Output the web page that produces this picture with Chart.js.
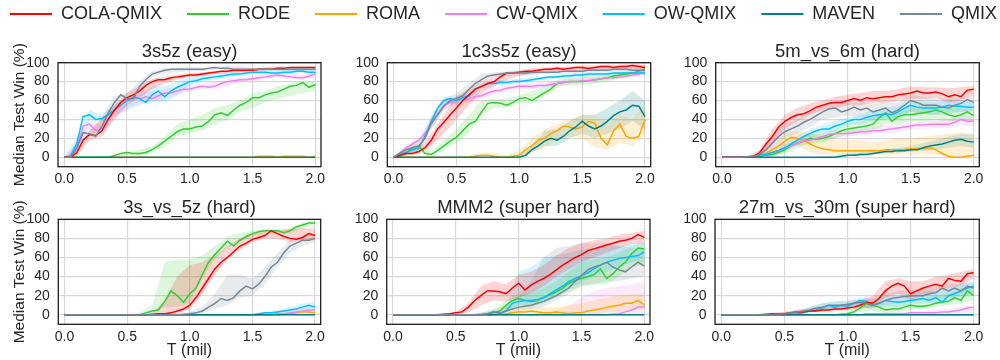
<!DOCTYPE html>
<html>
<head>
<meta charset="utf-8">
<script src="https://cdn.jsdelivr.net/npm/chart.js@4.4.1/dist/chart.umd.min.js"></script>
<style>
html,body{margin:0;padding:0;background:#ffffff;width:1000px;height:360px;overflow:hidden;position:relative}
canvas{position:absolute}
</style>
</head>
<body>
<script>
// ---------------- DATA ----------------
const METHODS = ['COLA-QMIX','RODE','ROMA','CW-QMIX','OW-QMIX','MAVEN','QMIX'];
const COLORS  = ['#ff0000','#32cd32','#ffa500','#ee82ee','#00bfff','#008080','#778899'];
const TITLES  = ['3s5z (easy)','1c3s5z (easy)','5m_vs_6m (hard)','3s_vs_5z (hard)','MMM2 (super hard)','27m_vs_30m (super hard)'];
const X_TICKS = [0.0,0.5,1.0,1.5,2.0];
const Y_TICKS = [0,20,40,60,80,100];
const T_FINE = [0.00,0.05,0.10,0.15,0.20,0.25,0.30,0.35,0.40,0.45,0.50,0.55,0.60,0.65,0.70,0.75,0.80,0.85,0.90,0.95,1.00,1.05,1.10,1.15,1.20,1.25,1.30,1.35,1.40,1.45,1.50,1.55,1.60,1.65,1.70,1.75,1.80,1.85,1.90,1.95,2.00];
const T_BAND = [0.0,0.1,0.2,0.3,0.4,0.5,0.6,0.7,0.8,0.9,1.0,1.1,1.2,1.3,1.4,1.5,1.6,1.7,1.8,1.9,2.0];

// panel 1: 3s5z
const S1_COLA  = [0,0,5,18,24,23,28,40,50,58,63,66,70,76,80,82,82,84,85,86,87,87,88,89,90,91,91,92,92,92,92,93,93,93,94,94,95,95,95,95,95];
const S1_RODE  = [0,0,0,0,0,0,0,0,2,4,5,4,4,5,8,12,17,22,27,30,30,32,33,38,45,47,44,50,55,58,63,63,66,68,69,72,75,76,79,74,77];
const S1_ROMA  = [0,0,0,0,0,0,0,0,0,0,0,0,0,0,0,0,0,0,0,0,0,0,0,0,0,0,0,0,0,0,0,1,1,1,0,1,1,1,1,0,1];
const S1_CW    = [0,0,10,33,35,28,30,40,50,55,60,63,62,64,62,65,68,68,70,72,72,74,75,74,75,78,80,81,82,82,83,84,85,86,87,86,85,84,84,86,88];
const S1_OW    = [0,1,15,43,45,40,41,45,50,55,60,64,62,58,66,70,64,70,74,77,80,81,83,84,85,86,87,88,88,89,90,90,90,89,89,90,90,91,91,90,90];
const S1_MAVEN = [0,0,0,0,0,0,0,0,0,0,0,0,0,0,0,0,0,0,0,0,0,0,0,0,0,0,0,0,0,0,0,0,0,0,0,0,0,0,0,0,0];
const S1_QMIX  = [0,0,10,26,25,22,33,47,58,66,62,62,75,82,88,90,92,93,93,93,93,93,93,94,95,94,94,93,93,93,93,93,93,93,93,93,93,93,93,93,93];
const B1_COLA_LO = [0,0,18,22,40,55,63,72,78,82,85,86,88,89,90,91,92,93,94,94,94];
const B1_COLA_HI = [0,8,28,40,55,68,75,83,85,87,89,90,91,92,93,94,95,96,96,96,96];
const B1_RODE_LO = [0,0,0,0,0,2,2,5,12,22,25,28,35,40,48,52,58,62,65,68,70];
const B1_RODE_HI = [0,0,0,0,1,6,8,12,22,35,40,45,52,55,60,68,70,75,78,80,80];
const B1_CW_LO   = [0,5,30,25,42,50,58,58,62,66,70,72,72,76,79,80,82,84,82,82,85];
const B1_CW_HI   = [0,15,38,35,55,62,68,70,72,74,76,78,80,83,85,86,88,90,88,88,90];
const B1_OW_LO   = [0,5,38,38,44,50,55,60,58,65,76,80,82,84,86,88,88,87,88,89,88];
const B1_OW_HI   = [0,20,50,45,56,62,68,75,75,80,85,87,88,90,91,92,92,92,93,93,93];
const B1_QMIX_LO = [0,5,22,30,55,60,70,85,89,90,91,91,93,92,92,91,91,91,91,91,91];
const B1_QMIX_HI = [0,15,28,42,65,68,80,91,94,95,95,95,96,96,96,95,95,95,95,95,95];

// panel 2: 1c3s5z
const S2_COLA  = [0,2,4,4,6,10,18,30,37,45,52,60,66,72,75,78,80,85,89,89,90,91,91,92,93,93,94,93,94,95,95,94,95,96,96,95,96,96,97,96,95];
const S2_RODE  = [0,1,5,10,12,4,3,7,12,17,21,28,35,38,48,57,58,57,55,58,62,63,60,64,68,72,78,79,80,80,80,81,82,83,84,86,87,88,89,91,93];
const S2_ROMA  = [0,0,0,0,0,0,0,0,0,0,0,0,0,1,2,2,1,0,0,1,2,8,12,18,20,25,28,33,32,30,32,38,36,20,13,28,35,22,20,22,40];
const S2_CW    = [0,5,10,14,18,25,35,45,55,58,60,61,62,64,65,68,70,71,73,74,75,75,75,76,76,77,78,79,80,80,81,81,82,83,84,84,85,86,87,88,90];
const S2_OW    = [0,3,5,8,10,22,38,52,60,62,60,63,65,72,75,78,78,79,79,80,80,81,82,83,84,85,85,86,86,87,87,88,88,88,88,89,89,89,89,89,89];
const S2_MAVEN = [0,0,0,0,0,0,0,0,0,0,0,0,0,0,0,0,0,0,0,0,0,2,8,12,17,20,18,22,28,32,38,33,30,33,38,44,48,50,55,54,43];
const S2_QMIX  = [0,4,8,10,12,20,36,45,54,60,62,65,72,78,82,86,87,88,89,89,89,89,90,90,90,90,90,91,91,91,91,92,92,92,92,93,93,93,92,92,92];
const B2_COLA_LO  = [0,2,4,12,25,40,55,68,75,82,86,88,90,90,91,92,91,93,93,93,92];
const B2_COLA_HI  = [0,6,10,25,45,65,72,80,85,90,92,94,95,96,96,97,97,98,98,99,98];
const B2_RODE_LO  = [0,2,8,2,8,15,25,45,52,52,58,56,65,74,76,76,78,80,83,85,88];
const B2_RODE_HI  = [0,8,15,6,18,30,45,60,62,62,65,70,75,82,84,85,86,88,90,92,95];
const B2_ROMA_LO  = [0,0,0,0,0,0,0,0,0,0,0,5,10,20,22,20,10,8,15,12,25];
const B2_ROMA_HI  = [0,0,0,0,0,0,2,5,5,2,8,20,30,35,40,45,45,35,45,40,58];
const B2_CW_LO    = [0,7,15,30,50,56,58,62,66,70,72,72,74,75,77,79,80,82,83,85,87];
const B2_CW_HI    = [0,13,20,40,60,64,66,68,74,76,78,79,79,81,83,84,85,86,87,89,92];
const B2_OW_LO    = [0,3,7,32,57,56,62,72,76,77,78,80,82,83,84,85,86,86,87,87,87];
const B2_OW_HI    = [0,8,12,42,64,64,68,78,81,82,83,85,86,87,88,89,90,90,91,91,91];
const B2_MAVEN_LO = [0,0,0,0,0,0,0,0,0,0,0,5,12,12,20,25,20,25,30,38,30];
const B2_MAVEN_HI = [0,0,0,0,0,0,0,0,0,0,0,12,28,30,38,45,45,52,60,70,60];
const B2_QMIX_LO  = [0,5,8,30,50,58,68,80,85,86,87,87,88,88,88,89,90,90,91,91,90];
const B2_QMIX_HI  = [0,12,15,45,62,68,78,88,90,91,91,92,92,92,92,93,94,94,95,95,94];

// panel 3: 5m_vs_6m
const S3_COLA  = [0,0,0,0,0.5,1,5,14,22,32,38,42,45,46,49,53,55,57,58,58,60,62,60,63,62,63,64,64,66,67,68,70,68,68,69,67,64,66,64,71,72];
const S3_RODE  = [0,0,0,0,0,0.5,1,2,3,5,8,12,15,17,20,19,20,22,25,28,30,31,32,33,35,42,47,38,43,45,45,46,47,48,50,48,45,43,45,48,44];
const S3_ROMA  = [0,0,0,0,0,0.5,2,4,8,12,17,21,20,18,14,11,9,8,7,7,7,7,7,7,7,7,8,8,8,8,9,9,9,10,8,4,1,0,0,1,2];
const S3_CW    = [0,0,0,0,0,1,2,3,5,7,10,12,15,17,18,20,22,24,25,25,25,26,27,27,28,28,29,30,31,32,33,34,34,35,35,35,35,37,40,38,38];
const S3_OW    = [0,0,0,0,0,1,2,3,5,7,10,14,18,22,25,28,30,30,33,35,38,40,40,42,44,45,46,45,48,52,55,53,52,52,52,53,55,54,54,53,53];
const S3_MAVEN = [0,0,0,0,0,0,0,0,0,0,0,0,0,0,0,0,0,0,0,1,2,2,3,3,4,5,6,6,7,7,8,8,10,12,13,14,16,18,19,17,16];
const S3_QMIX  = [0,0,0,0,0.5,1,3,8,15,22,27,30,33,37,40,44,48,51,52,48,50,53,50,52,48,50,52,47,50,55,60,58,55,55,55,53,52,55,57,61,58];
const B3_COLA_LO  = [0,0,0,0,12,30,38,45,50,52,55,55,57,58,60,62,62,63,58,60,65];
const B3_COLA_HI  = [0,0,0,8,30,45,52,57,60,64,66,68,70,70,72,75,74,74,73,74,76];
const B3_RODE_LO  = [0,0,0,0,1,4,10,14,15,20,24,26,28,35,35,38,38,40,38,38,38];
const B3_RODE_HI  = [0,0,0,2,5,12,20,25,25,30,36,38,42,48,50,52,54,56,52,52,50];
const B3_ROMA_LO  = [0,0,0,0,4,12,12,5,3,3,2,2,2,3,3,3,3,3,0,0,0];
const B3_ROMA_HI  = [0,0,0,3,12,25,28,25,20,18,18,18,16,18,20,20,22,23,25,25,25];
const B3_CW_LO    = [0,0,0,0,2,6,12,15,18,20,22,23,24,25,27,29,30,31,31,34,33];
const B3_CW_HI    = [0,0,0,3,8,14,18,22,26,29,29,31,32,34,35,37,38,40,40,44,43];
const B3_OW_LO    = [0,0,0,0,2,6,13,20,25,28,34,35,38,40,42,48,46,45,48,48,48];
const B3_OW_HI    = [0,0,0,3,8,15,23,30,35,38,42,45,50,52,55,60,58,58,60,60,58];
const B3_MAVEN_LO = [0,0,0,0,0,0,0,0,0,0,1,2,3,4,5,6,7,8,10,12,10];
const B3_MAVEN_HI = [0,0,0,0,0,0,0,0,1,2,4,5,7,8,10,12,15,18,22,25,24];
const B3_QMIX_LO  = [0,0,0,0,8,20,25,32,40,42,44,42,40,42,40,48,45,45,45,48,50];
const B3_QMIX_HI  = [0,0,0,4,22,35,40,48,55,58,58,58,56,58,58,66,64,63,62,63,64];

// panel 4: 3s_vs_5z
const S4_COLA  = [0,0,0,0,0,0,0,0,0,0,0,0,0,0,0.5,1,1,2,4,6,10,18,28,38,48,55,60,66,72,75,79,81,83,88,85,82,80,79,81,85,83];
const S4_RODE  = [0,0,0,0,0,0,0,0,0,0,0,0,0,2,4,5,14,25,20,13,22,28,42,55,63,70,77,72,78,82,85,87,88,88,88,86,88,92,94,96,96];
const S4_ROMA  = [0,0,0,0,0,0,0,0,0,0,0,0,0,0,0,0,0,0,0,0,0,0,0,0,0,0,0,0,0,0,0,0,0,0,0,0.5,1,2,3,3,2];
const S4_CW    = [0,0,0,0,0,0,0,0,0,0,0,0,0,0,0,0,0,0,0,0,0,0,0,0,0,0,0,0,0,0,0,0,0,0,1,1,2,3,4,5,5];
const S4_OW    = [0,0,0,0,0,0,0,0,0,0,0,0,0,0,0,0,0,0,0,0,0,0,0,0,0,0,0,0,0,0,0,1,2,2,3,4,5,6,8,10,8];
const S4_MAVEN = [0,0,0,0,0,0,0,0,0,0,0,0,0,0,0,0,0,0,0,0,0,0,0,0,0,0,0,0,0,0,0,0,0,0,0,0,0,0,0,0,0];
const S4_QMIX  = [0,0,0,0,0,0,0,0,0,0,0,0,0,0,0,0,0,0,0,0.5,1,2,4,8,12,17,15,18,25,30,27,32,40,50,55,65,72,75,78,78,80];
const B4_COLA_LO = [0,0,0,0,0,0,0,0,0,1,6,22,42,58,68,76,80,80,76,78,78];
const B4_COLA_HI = [0,0,0,0,0,0,0,2,15,40,52,55,62,72,80,85,87,88,90,91,90];
const B4_RODE_LO = [0,0,0,0,0,0,0,2,8,8,12,38,58,70,76,82,84,85,85,90,94];
const B4_RODE_HI = [0,0,0,0,0,0,2,10,55,58,58,62,72,82,86,88,90,90,90,97,99];
const B4_CW_LO   = [0,0,0,0,0,0,0,0,0,0,0,0,0,0,0,0,0,0,0,0,0];
const B4_CW_HI   = [0,0,0,0,0,0,0,0,0,0,0,0,0,0,0,0,2,4,6,8,10];
const B4_OW_LO   = [0,0,0,0,0,0,0,0,0,0,0,0,0,0,0,0,0,1,2,4,5];
const B4_OW_HI   = [0,0,0,0,0,0,0,0,0,0,0,0,0,0,0,1,3,5,8,12,13];
const B4_QMIX_LO = [0,0,0,0,0,0,0,0,0,0,0,1,6,10,18,20,32,50,65,72,76];
const B4_QMIX_HI = [0,0,0,0,0,0,0,0,0,0,3,8,22,42,42,38,50,65,78,82,84];

// panel 5: MMM2
const S5_COLA  = [0,0,0,0,0,0,0,0,0.5,1,2,3,8,15,20,25,25,24,22,28,33,26,31,35,38,42,47,52,56,60,63,67,69,71,73,75,77,78,80,84,81];
const S5_RODE  = [0,0,0,0,0,0,0,0,0,0,0,0,0,0,0.5,1,2,4,10,15,17,15,14,15,18,21,24,28,33,36,38,40,42,48,38,43,50,55,64,70,69];
const S5_ROMA  = [0,0,0,0,0,0,0,0,0,0,0,0,0,0,0,0,0,0.5,1,2,3,3,4,3,2,2,3,2,1,2,2,4,5,6,8,9,10,12,12,15,10];
const S5_CW    = [0,0,0,0,0,0,0,0,0,0,0,0,0,0,0,0,0,0,0,0,0,0,0,0,0,0,0,0,0,0,0,0,0,0,0,0.5,1,3,5,8,8];
const S5_OW    = [0,0,0,0,0,0,0,0,0,0,0,0,0,0,0,0,0,1,4,12,14,15,15,16,18,22,26,30,35,38,41,44,48,52,55,57,59,60,61,62,66];
const S5_MAVEN = [0,0,0,0,0,0,0,0,0,0,0,0,0,0,0,0,0,0,0,0,0,0,0,0,0,0,0,0,0,0,0,0,0,0,0,0,0,0,0,0,0];
const S5_QMIX  = [0,0,0,0,0,0,0,0,0,0,0,0,0,0,0,1,3,2,4,6,8,9,10,12,14,17,20,24,28,35,41,47,50,52,55,50,47,45,50,55,51];
const B5_COLA_LO = [0,0,0,0,0,0,2,10,15,14,18,22,30,40,48,55,60,65,70,74,74];
const B5_COLA_HI = [0,0,0,0,1,3,12,30,35,32,42,45,52,62,70,75,78,80,84,86,88];
const B5_RODE_LO = [0,0,0,0,0,0,0,0,1,5,10,8,12,18,25,30,32,32,40,50,52];
const B5_RODE_HI = [0,0,0,0,0,0,0,2,6,15,22,22,28,35,45,55,58,60,65,72,75];
const B5_ROMA_LO = [0,0,0,0,0,0,0,0,0,0,0,0,0,0,0,0,0,2,3,5,5];
const B5_ROMA_HI = [0,0,0,0,0,0,0,0,2,5,8,8,8,8,10,12,15,18,20,22,22];
const B5_CW_LO   = [0,0,0,0,0,0,0,0,0,0,0,0,0,0,0,0,0,0,0,0,0];
const B5_CW_HI   = [0,0,0,0,0,0,0,0,0,0,0,0,2,5,10,18,25,28,30,32,34];
const B5_OW_LO   = [0,0,0,0,0,0,0,0,0,2,10,10,14,20,28,34,40,45,50,55,56];
const B5_OW_HI   = [0,0,0,0,0,0,0,0,2,8,45,50,60,62,65,68,70,72,72,74,75];
const B5_QMIX_LO = [0,0,0,0,0,0,0,0,0,2,4,6,8,15,22,30,32,35,35,38,40];
const B5_QMIX_HI = [0,0,0,0,0,0,0,2,5,10,20,35,60,70,72,75,75,75,72,70,68];

// panel 6: 27m_vs_30m
const S6_COLA  = [0,0,0,0,0,0,0,0.5,1,1,1,2,3,3,4,4,5,5,6,6,7,8,10,13,12,17,25,30,33,30,22,25,28,30,32,30,38,36,35,43,44];
const S6_RODE  = [0,0,0,0,0,0,0,0,0,0,0,0,0,0,0,0,0,0,0,0.5,1,3,7,12,10,8,5,6,6,8,10,9,9,10,12,13,14,18,15,25,20];
const S6_ROMA  = [0,0,0,0,0,0,0,0,0,0,0,0,0,0,0,0,0,0,0,0,0,0,0,0,0,0,0,0,0,0,0,0,0,0,0,0,0,0,0,0,0];
const S6_CW    = [0,0,0,0,0,0,0,0,0,0,0,0,0,0,0,0,0,0,0,0,0,0,0,1,1,1,1,1,1,1,2,2,2,2,2,3,3,4,5,7,8];
const S6_OW    = [0,0,0,0,0,0,0,0,0,0,0,0.5,1,2,4,5,7,10,8,10,9,12,15,14,10,12,15,14,13,14,15,16,17,15,18,13,20,22,25,28,30];
const S6_MAVEN = [0,0,0,0,0,0,0,0,0,0,0,0,0,0,0,0,0,0,0,0,0,0,0,0,0,0,0,0,0,0,0,0,0,0,0,0,0,0,0,0,0];
const S6_QMIX  = [0,0,0,0,0,0,0,0,0,0.5,1,2,3,4,5,7,8,10,10,10,11,12,13,12,10,12,15,17,18,19,20,20,20,22,23,28,25,28,25,30,28];
const B6_COLA_LO = [0,0,0,0,1,1,2,3,3,4,5,6,8,18,22,15,20,24,28,30,38];
const B6_COLA_HI = [0,0,0,0,2,3,5,6,8,9,10,15,20,35,38,35,35,40,42,45,48];
const B6_RODE_LO = [0,0,0,0,0,0,0,0,0,0,0,3,4,2,3,5,6,8,10,12,15];
const B6_RODE_HI = [0,0,0,0,0,0,0,0,0,1,2,12,15,12,12,16,17,20,22,28,28];
const B6_CW_LO   = [0,0,0,0,0,0,0,0,0,0,0,0,0,0,0,0,0,0,0,0,0];
const B6_CW_HI   = [0,0,0,0,0,0,0,0,0,0,0,1,2,3,3,4,4,5,6,8,10];
const B6_OW_LO   = [0,0,0,0,0,0,0,2,4,5,6,8,6,8,8,10,12,12,14,18,22];
const B6_OW_HI   = [0,0,0,0,0,1,3,8,12,14,14,18,16,20,20,22,25,25,28,32,35];
const B6_QMIX_LO = [0,0,0,0,0,1,2,3,5,6,8,8,7,10,13,14,15,16,18,20,22];
const B6_QMIX_HI = [0,0,0,0,1,3,5,8,12,14,15,16,18,22,25,26,28,30,32,33,34];

// ---------------- LAYOUT / RENDER ----------------
const PANELS = [
  {lines:[S1_COLA,S1_RODE,S1_ROMA,S1_CW,S1_OW,S1_MAVEN,S1_QMIX],
   bands:[[B1_COLA_LO,B1_COLA_HI],[B1_RODE_LO,B1_RODE_HI],null,[B1_CW_LO,B1_CW_HI],[B1_OW_LO,B1_OW_HI],null,[B1_QMIX_LO,B1_QMIX_HI]]},
  {lines:[S2_COLA,S2_RODE,S2_ROMA,S2_CW,S2_OW,S2_MAVEN,S2_QMIX],
   bands:[[B2_COLA_LO,B2_COLA_HI],[B2_RODE_LO,B2_RODE_HI],[B2_ROMA_LO,B2_ROMA_HI],[B2_CW_LO,B2_CW_HI],[B2_OW_LO,B2_OW_HI],[B2_MAVEN_LO,B2_MAVEN_HI],[B2_QMIX_LO,B2_QMIX_HI]]},
  {lines:[S3_COLA,S3_RODE,S3_ROMA,S3_CW,S3_OW,S3_MAVEN,S3_QMIX],
   bands:[[B3_COLA_LO,B3_COLA_HI],[B3_RODE_LO,B3_RODE_HI],[B3_ROMA_LO,B3_ROMA_HI],[B3_CW_LO,B3_CW_HI],[B3_OW_LO,B3_OW_HI],[B3_MAVEN_LO,B3_MAVEN_HI],[B3_QMIX_LO,B3_QMIX_HI]]},
  {lines:[S4_COLA,S4_RODE,S4_ROMA,S4_CW,S4_OW,S4_MAVEN,S4_QMIX],
   bands:[[B4_COLA_LO,B4_COLA_HI],[B4_RODE_LO,B4_RODE_HI],null,[B4_CW_LO,B4_CW_HI],[B4_OW_LO,B4_OW_HI],null,[B4_QMIX_LO,B4_QMIX_HI]]},
  {lines:[S5_COLA,S5_RODE,S5_ROMA,S5_CW,S5_OW,S5_MAVEN,S5_QMIX],
   bands:[[B5_COLA_LO,B5_COLA_HI],[B5_RODE_LO,B5_RODE_HI],[B5_ROMA_LO,B5_ROMA_HI],[B5_CW_LO,B5_CW_HI],[B5_OW_LO,B5_OW_HI],null,[B5_QMIX_LO,B5_QMIX_HI]]},
  {lines:[S6_COLA,S6_RODE,S6_ROMA,S6_CW,S6_OW,S6_MAVEN,S6_QMIX],
   bands:[[B6_COLA_LO,B6_COLA_HI],[B6_RODE_LO,B6_RODE_HI],null,[B6_CW_LO,B6_CW_HI],[B6_OW_LO,B6_OW_HI],null,[B6_QMIX_LO,B6_QMIX_HI]]}
];

// geometry of each panel (canvas box and plot edges, in page pixels)
const GEO = [
  {cl:0,   cw:330, pl:58,    pr:321,   row:0},
  {cl:330, cw:330, pl:387.3, pr:650.7, row:0},
  {cl:660, cw:340, pl:715.7, pr:979.3, row:0},
  {cl:0,   cw:330, pl:58.3,  pr:320.7, row:1},
  {cl:330, cw:330, pl:386.7, pr:650,   row:1},
  {cl:660, cw:340, pl:715,   pr:979.3, row:1}
];
const ROWS = [
  {ct:30,  ch:165, padTop:10.5, xh:28.3},
  {ct:195, ch:165, padTop:2.1,  xh:35.7}
];
const LINE_ORDER = [1,5,6,4,3,2,0]; // drawing priority (lower = on top)

Chart.defaults.font.family = "'Liberation Sans', Arial, Helvetica, sans-serif";
Chart.defaults.color = '#262626';

function rgba(hex, a){
  const n = parseInt(hex.slice(1),16);
  return `rgba(${(n>>16)&255},${(n>>8)&255},${n&255},${a})`;
}
function pts(xs, ys){ return xs.map((x,i)=>({x:x, y:ys[i]})); }

const framePlugin = {
  id:'frame',
  afterDraw(chart){
    const {ctx, chartArea:a} = chart;
    ctx.save();
    ctx.strokeStyle = '#1f1f1f';
    ctx.lineWidth = 1.3;
    ctx.strokeRect(a.left, a.top, a.right-a.left, a.bottom-a.top);
    ctx.restore();
  }
};

function makeCanvas(left, top, w, h){
  const c = document.createElement('canvas');
  c.width = w; c.height = h;
  c.style.left = left+'px'; c.style.top = top+'px';
  c.style.width = w+'px'; c.style.height = h+'px';
  document.body.appendChild(c);
  return c.getContext('2d');
}

PANELS.forEach((p, k)=>{
  const g = GEO[k], r = ROWS[g.row];
  const col = k % 3;
  const ds = [];
  p.bands.forEach((b, i)=>{
    if(!b) return;
    ds.push({data:pts(T_BAND,b[0]), borderColor:'rgba(0,0,0,0)', borderWidth:0, pointRadius:0, fill:false, order:50, tension:0});
    ds.push({data:pts(T_BAND,b[1]), borderColor:'rgba(0,0,0,0)', borderWidth:0, pointRadius:0, fill:'-1', backgroundColor:rgba(COLORS[i],0.17), order:50, tension:0});
  });
  p.lines.forEach((arr, i)=>{
    ds.push({label:METHODS[i], data:pts(T_FINE,arr), borderColor:COLORS[i], borderWidth:1.5, pointRadius:0, fill:false, tension:0, order:LINE_ORDER[i]});
  });
  const ctx = makeCanvas(g.cl, r.ct, g.cw, r.ch);
  new Chart(ctx, {
    type:'line',
    data:{datasets:ds},
    plugins:[framePlugin],
    options:{
      responsive:false, animation:false, events:[],
      layout:{padding:{top:r.padTop, right:(g.cl+g.cw)-g.pr, bottom:0, left:0}},
      plugins:{
        legend:{display:false},
        tooltip:{enabled:false},
        filler:{drawTime:'beforeDatasetsDraw'},
        title:{display:true, fullSize:false, text:TITLES[k], color:'#262626', font:{size:18.5, weight:'normal', lineHeight:1.2}, padding:{top:0,bottom:0}}
      },
      scales:{
        x:{type:'linear', min:-0.05, max:2.045,
           afterFit:(s)=>{ s.height = r.xh; },
           afterBuildTicks:(s)=>{ s.ticks = X_TICKS.map(v=>({value:v})); },
           ticks:{padding:4.5, maxRotation:0, autoSkip:false, font:{size:14}, color:'#262626', callback:(v)=>Number(v).toFixed(1)},
           grid:{color:'#d9d9d9', lineWidth:1.2, drawTicks:false},
           border:{display:false},
           title:{display:g.row===1, text:'T (mil)', color:'#262626', font:{size:16}, padding:{top:0,bottom:0}}
        },
        y:{type:'linear', min:-10, max:100,
           afterFit:(s)=>{ s.width = g.pl - g.cl; },
           afterBuildTicks:(s)=>{ s.ticks = Y_TICKS.map(v=>({value:v})); },
           ticks:{padding:8.5, font:{size:14}, color:'#262626', callback:(v)=>String(v)},
           grid:{color:'#d9d9d9', lineWidth:1.2, drawTicks:false},
           border:{display:false},
           title:{display:col===0, text:'Median Test Win (%)', color:'#262626', font:{size:15.5}, padding:{top:10,bottom:0}}
        }
      }
    }
  });
});

// legend row
(function(){
  const ctx = makeCanvas(-15, -20, 1060, 90);
  new Chart(ctx, {
    type:'line',
    data:{datasets:METHODS.map((m,i)=>({label:m, data:[], borderColor:COLORS[i], backgroundColor:COLORS[i], borderWidth:2}))},
    options:{
      responsive:false, animation:false, events:[],
      layout:{padding:0},
      scales:{x:{display:false}, y:{display:false}},
      plugins:{
        tooltip:{enabled:false},
        legend:{display:true, position:'top', align:'start',
          labels:{usePointStyle:true, pointStyle:'line', pointStyleWidth:42, padding:25, color:'#262626', font:{size:18}}}
      }
    }
  });
})();
</script>
</body>
</html>
